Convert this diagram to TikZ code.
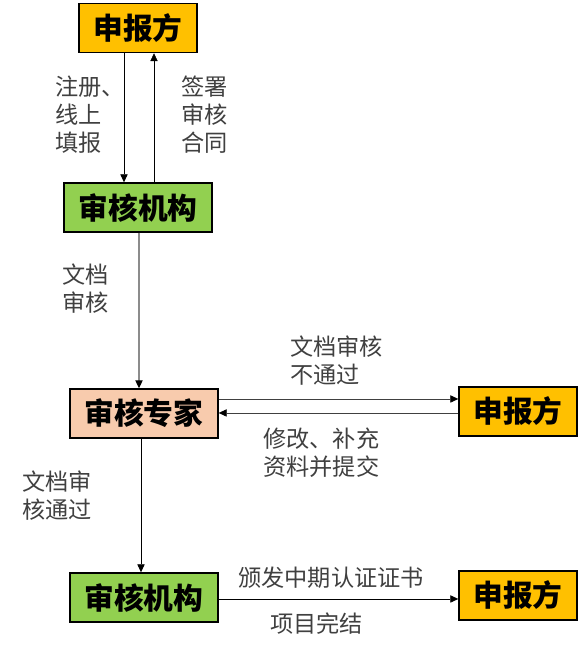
\documentclass[tikz,border=0pt]{standalone}
\usepackage{fontspec}
\setmainfont{Noto Sans CJK SC}
\usepackage{xcolor}
\usetikzlibrary{arrows.meta}
\definecolor{sbfOrange}{HTML}{FFC000}
\definecolor{jgGreen}{HTML}{92D050}
\definecolor{zjSalmon}{HTML}{F8CBAD}
\begin{document}
\begin{tikzpicture}[x=0.75pt, y=-0.75pt, >={Stealth[length=6pt, width=5.5pt, inset=0pt, color=black]},
    box/.style={draw=black, line width=1.1pt, minimum width=88.5pt, minimum height=36.75pt,
        inner sep=0pt, font=\bfseries\fontsize{22.3}{22}\selectfont},
    widebox/.style={box, minimum width=111pt},
    lbl/.style={anchor=west, inner sep=0pt, align=left, text=black!75,
        font=\fontsize{17.4}{21}\selectfont}]
    \useasboundingbox (0,0) rectangle (582,651);

    % Boxes
    \node[box, fill=sbfOrange] (sbf1) at (138,28) {申报方};
    \node[widebox, fill=jgGreen] (jg1) at (138,207.5) {审核机构};
    \node[widebox, fill=zjSalmon] (zj) at (144,413.5) {审核专家};
    \node[box, fill=sbfOrange] (sbf2) at (518,411.5) {申报方};
    \node[widebox, fill=jgGreen] (jg2) at (144,597.5) {审核机构};
    \node[box, fill=sbfOrange] (sbf3) at (518,595.5) {申报方};

    % Arrows
    \draw[->] ([xshift=-10.5pt]sbf1.south) -- ([xshift=-10.5pt]jg1.north);
    \draw[->] ([xshift=12pt]jg1.north) -- ([xshift=12pt]sbf1.south);
    \draw[->, black!45, line width=0.8pt] ([xshift=0.75pt]jg1.south) -- ([xshift=-3.75pt]zj.north);
    \draw[->, black!75] ([yshift=10.9pt]zj.east) -- ([yshift=10.9pt]zj.east -| sbf2.west);
    \draw[->, black!75] ([yshift=-1.1pt]sbf2.west) -- ([yshift=-1.1pt]sbf2.west -| zj.east);
    \draw[->] ([xshift=-2.25pt]zj.south) -- ([xshift=-2.25pt]jg2.north);
    \draw[->] ([yshift=-1.1pt]jg2.east) -- ([yshift=-1.1pt]jg2.east -| sbf3.west);

    % Labels
    \node[lbl] (l1) at (55,115) {注册、\\线上\\填报};
    \node[lbl] (l2) at (181,115) {签署\\审核\\合同};
    \node[lbl] (l3) at (62,289) {文档\\审核};
    \node[lbl] (l4) at (290,361) {文档审核\\不通过};
    \node[lbl] (l5) at (263,453) {修改、补充\\资料并提交};
    \node[lbl] (l6) at (22,496) {文档审\\核通过};
    \node[lbl] (l7) at (238,578) {颁发中期认证证书};
    \node[lbl] (l8) at (270,624) {项目完结};
\end{tikzpicture}
\end{document}
